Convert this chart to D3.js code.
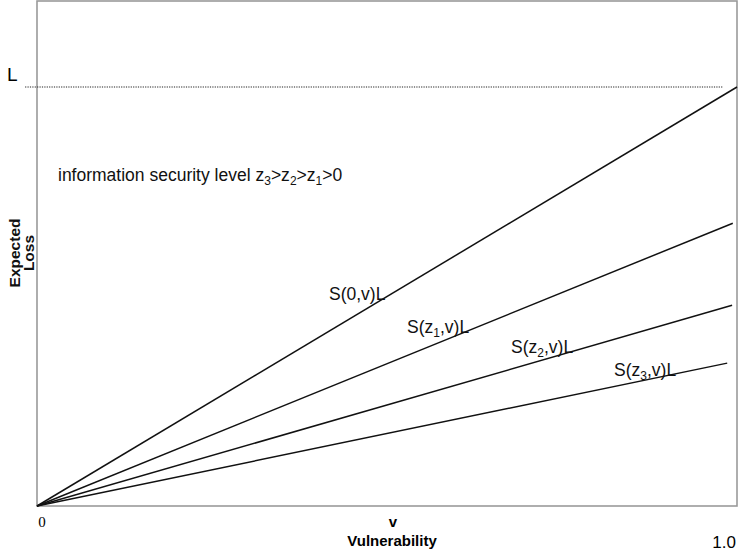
<!DOCTYPE html>
<html><head><meta charset="utf-8">
<script src="https://cdn.jsdelivr.net/npm/d3@7/dist/d3.min.js"></script>
<style>body{margin:0;background:#fff}svg{display:block}</style>
</head><body>
<svg id="c" width="740" height="552"></svg>
<script>
// Data
const seriesNames = ["S(0,v)L", "S(z1,v)L", "S(z2,v)L", "S(z3,v)L"];
const seriesSub   = [null, "1", "2", "3"];
const endLoss     = [1.0, 0.675, 0.479, 0.341];   // expected loss at line end (units of L)
const endVuln     = [1.0, 0.994, 0.993, 0.986];   // vulnerability where each line ends
const lossLevel   = 1.0;                          // L
const xTickLabels = ["0", "1.0"];

const svg = d3.select("#c");
const W = 740, H = 552;
const m = {left: 37, right: 3, top: 1, bottom: 46};
const x = d3.scaleLinear().domain([0, 1]).range([m.left, W - m.right]);
const y = d3.scaleLinear().domain([0, 1.2053]).range([H - m.bottom, m.top]);
const sans = "'Liberation Sans', Arial, Helvetica, sans-serif";

// frame
svg.append("rect").attr("x", x(0)).attr("y", y(1.2053))
  .attr("width", x(1) - x(0)).attr("height", y(0) - y(1.2053))
  .attr("fill", "none").attr("stroke", "#9a9a9a").attr("stroke-width", 1.6);

// L dotted line
svg.append("line").attr("x1", x(-0.017)).attr("x2", x(0.98))
  .attr("y1", y(lossLevel)).attr("y2", y(lossLevel))
  .attr("stroke", "#222").attr("stroke-width", 1.2).attr("stroke-dasharray", "1.2,1.2");
svg.append("text").attr("x", 7).attr("y", y(lossLevel) - 6)
  .attr("font-family", sans).attr("font-size", 19).text("L");

// lines
const line = d3.line().x(d => x(d[0])).y(d => y(d[1]));
endLoss.forEach((v, i) => {
  svg.append("path").datum([[0, 0], [endVuln[i], v]])
    .attr("d", line).attr("fill", "none").attr("stroke", "#111").attr("stroke-width", 1.5);
});

// series labels
const labelPos = [[329, 300], [407, 333], [511, 353], [614, 376]];
seriesNames.forEach((n, i) => {
  const t = svg.append("text").attr("x", labelPos[i][0]).attr("y", labelPos[i][1])
    .attr("font-family", sans).attr("font-size", 17.5).attr("fill", "#111");
  if (seriesSub[i] === null) { t.text(n); return; }
  t.append("tspan").text("S(z");
  t.append("tspan").attr("font-size", 12).attr("dy", 4).text(seriesSub[i]);
  t.append("tspan").attr("dy", -4).text(",v)L");
});

// info text
const info = svg.append("text").attr("x", 58).attr("y", 181)
  .attr("font-family", sans).attr("font-size", 17.5).attr("fill", "#111");
info.append("tspan").text("information security level z");
[["3", ">z"], ["2", ">z"], ["1", ">0"]].forEach(([s, r]) => {
  info.append("tspan").attr("font-size", 12).attr("dy", 4).text(s);
  info.append("tspan").attr("dy", -4).text(r);
});

// y axis title
const yt = svg.append("text").attr("transform", "translate(22,253) rotate(-90)")
  .attr("text-anchor", "middle").attr("font-family", sans).attr("font-weight", "bold")
  .attr("font-size", 15.5).attr("fill", "#111");
yt.append("tspan").attr("x", 0).attr("dy", -2).text("Expected");
yt.append("tspan").attr("x", 0).attr("dy", 14).text("Loss");

// x labels
svg.append("text").attr("x", x(0) + 5).attr("y", 527).attr("text-anchor", "middle")
  .attr("font-family", "'Liberation Serif', 'Times New Roman', serif").attr("font-size", 15)
  .text(xTickLabels[0]);
svg.append("text").attr("x", 736).attr("y", 548).attr("text-anchor", "end")
  .attr("font-family", sans).attr("font-size", 17).text(xTickLabels[1]);
svg.append("text").attr("x", 393).attr("y", 527).attr("text-anchor", "middle")
  .attr("font-family", sans).attr("font-weight", "bold").attr("font-size", 15).text("v");
svg.append("text").attr("x", 392).attr("y", 546).attr("text-anchor", "middle")
  .attr("font-family", sans).attr("font-weight", "bold").attr("font-size", 15).text("Vulnerability");
</script>
</body></html>
